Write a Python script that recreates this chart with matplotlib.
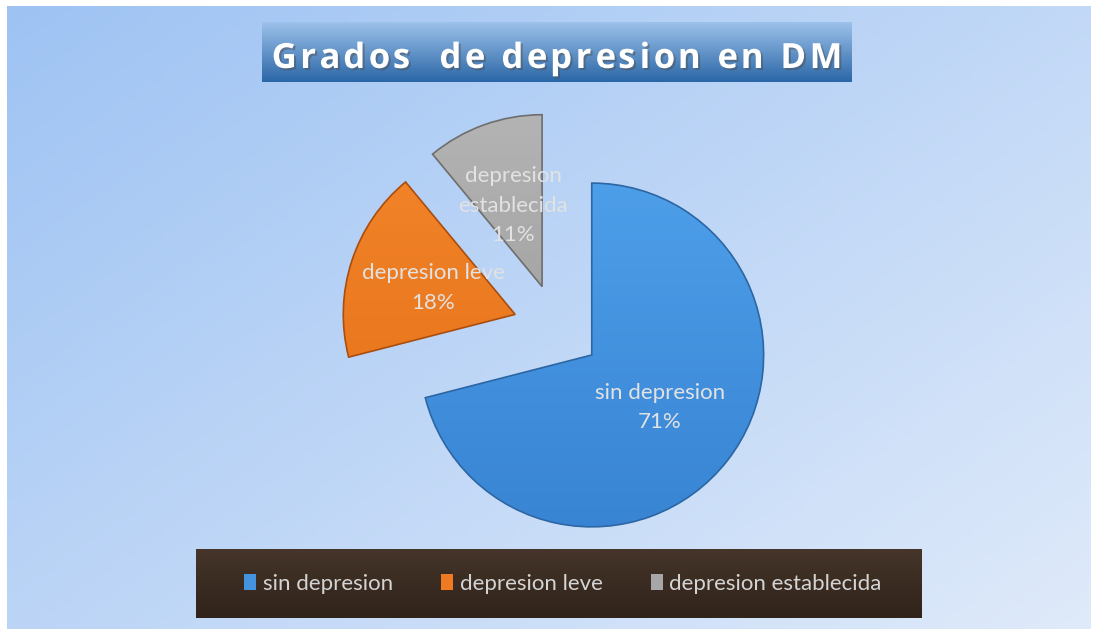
import matplotlib.pyplot as plt
import matplotlib.patheffects as pe
from matplotlib.patches import Wedge
import numpy as np

categories = ['sin depresion', 'depresion leve', 'depresion establecida']
slice_names = ['sin depresion', 'depresion leve', 'depresion\nestablecida']
percent = [71, 18, 11]

colors = ['#4593de', '#ef7a21', '#a7a7a7']
tops = ['#55a8f2', '#f68a2e', '#b8b8b8']
bottoms = ['#347fce', '#e06912', '#8e8e8e']
edges = ['#2c66a3', '#a94e0e', '#6e6e6e']

title = 'Grados  de depresion en DM'

W, H = 1094, 629
fig = plt.figure(figsize=(W / 100, H / 100), dpi=100)
fig.patch.set_facecolor('white')


def hex2rgb(h):
    h = h.lstrip('#')
    return np.array([int(h[i:i + 2], 16) / 255 for i in (0, 2, 4)])


# background layer in pixel coords
bg = fig.add_axes([0, 0, 1, 1])
bg.axis('off')
xx, yy = np.meshgrid(np.linspace(0, 1, 200), np.linspace(0, 1, 120))
t = xx * 0.55 + yy * 0.45
c0, c1 = hex2rgb('#9ec3f3'), hex2rgb('#dfeafa')
bg.imshow(c0 + (c1 - c0) * t[..., None], extent=(7, 1091, 629, 6), aspect='auto', zorder=0)

# title box
tv = np.linspace(0, 1, 60)[:, None, None]
t0, t1 = hex2rgb('#9cc1ea'), hex2rgb('#2b67a7')
bg.imshow(np.repeat(t0 + (t1 - t0) * tv, 2, axis=1), extent=(262, 852, 82, 22), aspect='auto', zorder=1)

# legend box (dark wood)
lv = np.linspace(0, 1, 40)[:, None, None]
l0, l1 = hex2rgb('#45352a'), hex2rgb('#30231a')
bg.imshow(np.repeat(l0 + (l1 - l0) * lv, 2, axis=1), extent=(196, 922, 618, 549), aspect='auto', zorder=1)

bg.set_xlim(0, W)
bg.set_ylim(H, 0)

# title with letter spacing, drawn char by char
renderer = fig.canvas.get_renderer()
tkw = dict(color='white', fontsize=25, fontweight='bold', family='Open Sans')


def text_width(s):
    tmp = bg.text(0, 0, 'x' + s + 'x', **tkw)
    w = tmp.get_window_extent(renderer).width
    tmp.remove()
    return w


base = text_width('')
adv = [text_width(title[:i]) - base for i in range(len(title) + 1)]
spacing = 3.5
total = adv[-1] + spacing * (len(title) - 1)
x0 = 557 - total / 2
for i, ch in enumerate(title):
    if ch == ' ':
        continue
    bg.text(x0 + adv[i] + spacing * i, 68, ch, ha='left', va='baseline', zorder=2,
            path_effects=[pe.withSimplePatchShadow(offset=(1.5, -1.5), alpha=0.45)], **tkw)

# pie
S = 550
ax = fig.add_axes([(557 - S / 2) / W, (H - 328 - S / 2) / H, S / W, S / H])
wedges, texts = ax.pie(percent, colors=colors, startangle=90, counterclock=False,
                       explode=[0.256] * 3,
                       labels=[f'{n}\n{p}%' for n, p in zip(slice_names, percent)],
                       labeldistance=0.5,
                       textprops=dict(color='#e2e2e2', fontsize=16, family='Lato'))
ax.axis('off')

gv = np.linspace(0, 1, 100)[:, None, None]
for w, ct, cb, ec in zip(wedges, tops, bottoms, edges):
    a, b = hex2rgb(ct), hex2rgb(cb)
    im = ax.imshow(np.repeat(a + (b - a) * gv, 2, axis=1), extent=(-1.6, 1.6, -1.6, 1.6),
                   aspect='auto', zorder=1.5)
    im.set_clip_path(w)
    ax.add_patch(Wedge(w.center, w.r, w.theta1, w.theta2, fc='none', ec=ec, lw=1.2, zorder=2))
ax.set_xlim(-1.6, 1.6)
ax.set_ylim(-1.6, 1.6)

for txt in texts:
    txt.set_ha('center')
    txt.set_va('center')
    txt.set_linespacing(1.6)
    txt.set_zorder(3)

fig.legend(wedges, categories, loc='center', bbox_to_anchor=(563 / W, 1 - 584 / H), ncol=3,
           frameon=False, labelcolor='#d4d4d4', prop=dict(family='Lato', size=16),
           handlelength=0.55, handleheight=0.75, handletextpad=0.3, columnspacing=2.15)

fig.savefig('out.png', dpi=100)
